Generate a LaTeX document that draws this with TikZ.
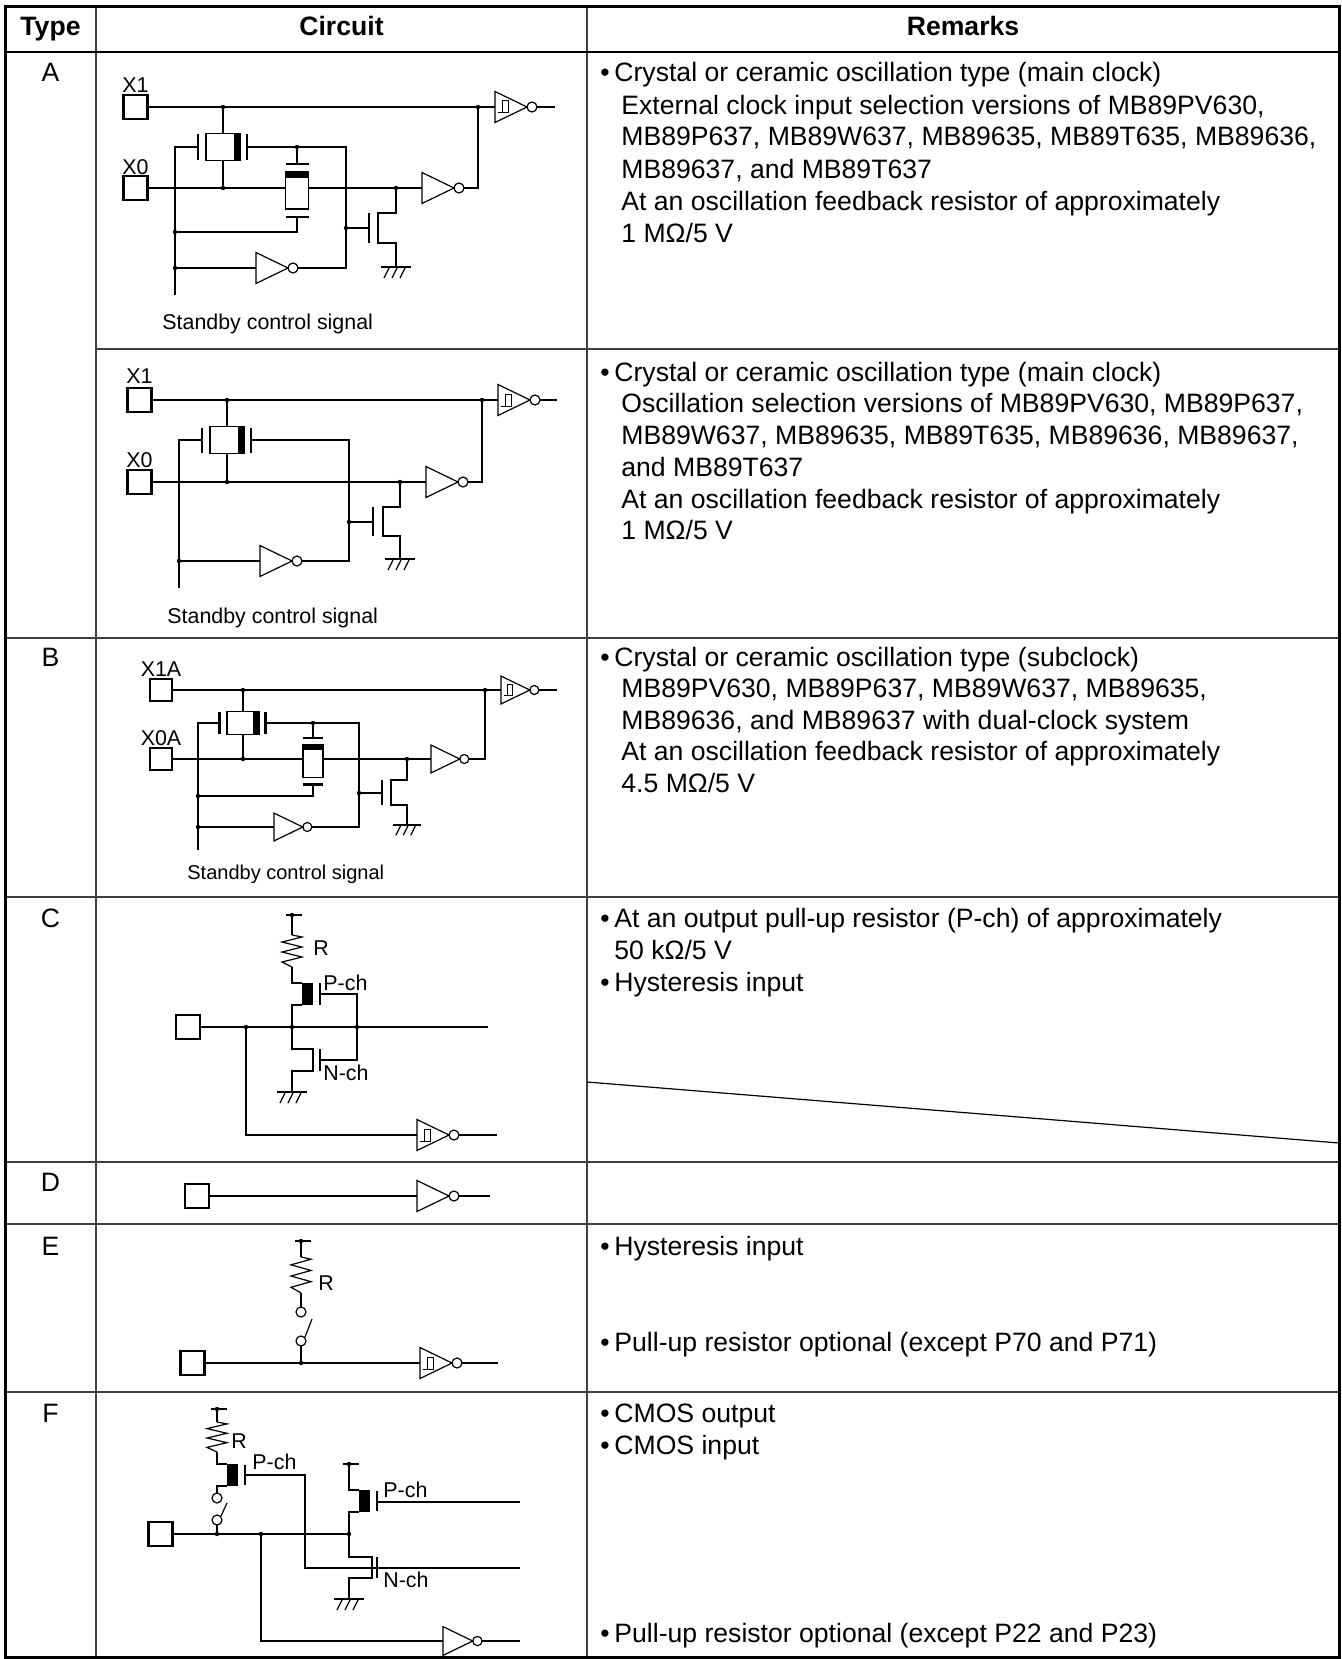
\documentclass[tikz,border=0pt]{standalone}
\usepackage{fontspec}
\setmainfont{Liberation Sans}
\newcommand{\rmkfont}{\fontsize{13.3}{16}\selectfont}
\newcommand{\lblfont}{\fontsize{10.7}{12}\selectfont}
\tikzset{
	tabline/.style={line width=0.7pt, black!75},
	tabframe/.style={line width=1.5pt},
	wire/.style={line width=0.6pt},
	plate/.style={line width=1.3pt},
	rmk/.style={anchor=base west, inner sep=0, font=\rmkfont},
	typ/.style={anchor=base, inner sep=0, font=\rmkfont},
	head/.style={anchor=base, inner sep=0, font=\rmkfont\bfseries},
	lbl/.style={anchor=base west, inner sep=0, font=\lblfont},
	pinlbl/.style={anchor=base, inner sep=0, font=\lblfont},
	pad/.style={draw, line width=1.4pt, minimum size=12pt, inner sep=0},
	pics/inv/.style={code={
		\draw[wire] (0,-15.5) -- (32,0) -- (0,15.5) -- cycle;
		\draw[wire] (37,0) circle (5);}},
	pics/schmitt/.style={code={
		\draw[wire] (0,-15.5) -- (32,0) -- (0,15.5) -- cycle;
		\draw[wire] (37,0) circle (5);
		\draw[line width=0.5pt] (3,6) -- (13,6) -- (13,-6) -- (7,-6) -- (7,6);}},
	pics/gnd/.style={code={
		\draw[line width=1.2pt] (-15,0) -- (15,0);
		\foreach \h in {-7,1,9} \draw[wire] (\h,1) -- (\h-5,11);}},
	pics/xtal/.style={code={
		\draw[wire] (-17,-13.5) rectangle (17,13.5);
		\fill (11,-13.5) rectangle (17,13.5);
		\draw[plate] (-25,-12.5) -- (-25,12.5);
		\draw[plate] (24,-12.5) -- (24,12.5);}},
	pics/fbres/.style={code={
		\draw[wire] (-11.5,-16) rectangle (11.5,21);
		\fill (-11.5,-16) rectangle (11.5,-10);
		\draw[plate] (-11.5,-24) -- (11.5,-24);
		\draw[plate] (-11.5,29) -- (11.5,29);}},
	pics/zres/.style={code={
		\draw[wire] (0,0) -- (10,2) -- (-10,7) -- (10,12) -- (-10,17) -- (10,22) -- (-10,27) -- (0,32);}},
	pics/vdd/.style={code={
		\draw[wire] (-6,0) -- (10,0);
		\fill (0,0) circle (2.2);}},
}
\begin{document}
\begin{tikzpicture}[x=0.5pt, y=-0.5pt]
	\useasboundingbox (0,0) rectangle (1341,1659);
	% table
	\draw[tabline] (96,7) -- (96,1657);
	\draw[tabline] (587,7) -- (587,1657);
	\draw[tabline] (96,349) -- (1339,349);
	\foreach \r in {638,897,1162,1224,1392}
		\draw[tabline] (5,\r) -- (1339,\r);
	\draw[line width=1.2pt] (5,52) -- (1339,52);
	\draw[tabframe] (5,7) rectangle (1339,1657);
	\draw[wire] (587,1082) -- (1339,1143);
	\node[head] (hType) at (50.5,36) {Type};
	\node[head] (hCircuit) at (341.5,36) {Circuit};
	\node[head] (hRemarks) at (963,36) {Remarks};
	\node[typ] (tA) at (50.5,82) {A};
	\node[typ] (tB) at (50.5,666) {B};
	\node[typ] (tC) at (50.5,927) {C};
	\node[typ] (tD) at (50.5,1191) {D};
	\node[typ] (tE) at (50.5,1255) {E};
	\node[typ] (tF) at (50.5,1422) {F};

	% remarks
	\node[rmk] (bAa) at (600,82) {\textbullet};
	\node[rmk] (rAa1) at (614,82) {Crystal or ceramic oscillation type (main clock)};
	\node[rmk] (rAa2) at (621,114) {External clock input selection versions of MB89PV630,};
	\node[rmk] (rAa3) at (621,146) {MB89P637, MB89W637, MB89635, MB89T635, MB89636,};
	\node[rmk] (rAa4) at (621,178) {MB89637, and MB89T637};
	\node[rmk] (rAa5) at (621,210) {At an oscillation feedback resistor of approximately};
	\node[rmk] (rAa6) at (621,242) {1 MΩ/5 V};
	\node[rmk] (bAb) at (600,381) {\textbullet};
	\node[rmk] (rAb1) at (614,381) {Crystal or ceramic oscillation type (main clock)};
	\node[rmk] (rAb2) at (621,412) {Oscillation selection versions of MB89PV630, MB89P637,};
	\node[rmk] (rAb3) at (621,444) {MB89W637, MB89635, MB89T635, MB89636, MB89637,};
	\node[rmk] (rAb4) at (621,476) {and MB89T637};
	\node[rmk] (rAb5) at (621,508) {At an oscillation feedback resistor of approximately};
	\node[rmk] (rAb6) at (621,539) {1 MΩ/5 V};
	\node[rmk] (bB) at (600,666) {\textbullet};
	\node[rmk] (rB1) at (614,666) {Crystal or ceramic oscillation type (subclock)};
	\node[rmk] (rB2) at (621,697) {MB89PV630, MB89P637, MB89W637, MB89635,};
	\node[rmk] (rB3) at (621,729) {MB89636, and MB89637 with dual-clock system};
	\node[rmk] (rB4) at (621,760) {At an oscillation feedback resistor of approximately};
	\node[rmk] (rB5) at (621,792) {4.5 MΩ/5 V};
	\node[rmk] (bCa) at (600,927) {\textbullet};
	\node[rmk] (rC1) at (614,927) {At an output pull-up resistor (P-ch) of approximately};
	\node[rmk] (rC2) at (614,959) {50 kΩ/5 V};
	\node[rmk] (bCb) at (600,991) {\textbullet};
	\node[rmk] (rC3) at (614,991) {Hysteresis input};
	\node[rmk] (bEa) at (600,1255) {\textbullet};
	\node[rmk] (rE1) at (614,1255) {Hysteresis input};
	\node[rmk] (bEb) at (600,1351) {\textbullet};
	\node[rmk] (rE2) at (614,1351) {Pull-up resistor optional (except P70 and P71)};
	\node[rmk] (bFa) at (600,1422) {\textbullet};
	\node[rmk] (rF1) at (614,1422) {CMOS output};
	\node[rmk] (bFb) at (600,1454) {\textbullet};
	\node[rmk] (rF2) at (614,1454) {CMOS input};
	\node[rmk] (bFc) at (600,1642) {\textbullet};
	\node[rmk] (rF3) at (614,1642) {Pull-up resistor optional (except P22 and P23)};

	% type A, external clock version
	\node[pad] (xoneA) at (135.5,107) {};
	\node[pinlbl] (xoneAl) at (135.5,93) {X1};
	\node[pad] (xzeroA) at (135.5,188) {};
	\node[pinlbl] (xzeroAl) at (135.5,174) {X0};
	\draw[wire] (xoneA.east) -- (495,107);
	\pic at (495,107) {schmitt};
	\draw[wire] (537,107) -- (555,107);
	\draw[wire] (223,107) -- (223,133.5);
	\pic at (223,147) {xtal};
	\draw[wire] (223,160.5) -- (223,188);
	\draw[wire] (xzeroA.east) -- (285.5,188);
	\pic at (297,188) {fbres};
	\draw[wire] (308.5,188) -- (422,188);
	\pic at (422,188) {inv};
	\draw[wire] (464,188) -- (478,188) -- (478,107);
	\draw[wire] (198,147) -- (175,147) -- (175,295);
	\draw[wire] (247,147) -- (346,147) -- (346,268) -- (298,268);
	\draw[wire] (297,164) -- (297,147);
	\draw[wire] (297,217) -- (297,232) -- (175,232);
	\draw[wire] (175,268) -- (256,268);
	\pic at (256,268) {inv};
	\draw[wire] (346,228) -- (369,228);
	\draw[plate] (369,213) -- (369,243);
	\draw[wire] (396,188) -- (396,213) -- (378,213) -- (378,243) -- (396,243) -- (396,267);
	\pic at (396,267) {gnd};
	\foreach \p in {(223,107),(478,107),(223,188),(396,188),(297,147),(175,232),(175,268),(346,228)}
		\fill \p circle (2.2);
	\node[lbl] (stbyA) at (162,329) {Standby control signal};

	% type A, oscillation version
	\node[pad] (xoneB) at (139.5,400) {};
	\node[pinlbl] (xoneBl) at (139.5,383) {X1};
	\node[pad] (xzeroB) at (139.5,482) {};
	\node[pinlbl] (xzeroBl) at (139.5,467) {X0};
	\draw[wire] (xoneB.east) -- (498,400);
	\pic at (498,400) {schmitt};
	\draw[wire] (540,400) -- (557,400);
	\draw[wire] (227,400) -- (227,426.5);
	\pic at (227,440) {xtal};
	\draw[wire] (227,453.5) -- (227,482);
	\draw[wire] (xzeroB.east) -- (426,482);
	\pic at (426,482) {inv};
	\draw[wire] (468,482) -- (482,482) -- (482,400);
	\draw[wire] (202,440) -- (179,440) -- (179,588);
	\draw[wire] (251,440) -- (349,440) -- (349,561) -- (302,561);
	\draw[wire] (179,561) -- (260,561);
	\pic at (260,561) {inv};
	\draw[wire] (349,522) -- (373,522);
	\draw[plate] (373,507) -- (373,536);
	\draw[wire] (400,482) -- (400,507) -- (383,507) -- (383,536) -- (400,536) -- (400,559);
	\pic at (400,559) {gnd};
	\foreach \p in {(227,400),(482,400),(227,482),(400,482),(179,561),(349,522)}
		\fill \p circle (2.2);
	\node[lbl] (stbyB) at (167,623) {Standby control signal};

	% type B, subclock
	\node[pad, minimum size=11pt] (xoneC) at (161,690) {};
	\node[pinlbl] (xoneCl) at (161,676) {X1A};
	\node[pad, minimum size=11pt] (xzeroC) at (161,759) {};
	\node[pinlbl] (xzeroCl) at (161,745) {X0A};
	\draw[wire] (xoneC.east) -- (501,690);
	\pic[scale=0.9] at (501,690) {schmitt};
	\draw[wire] (539,690) -- (557,690);
	\draw[wire] (243,690) -- (243,711.5);
	\pic[xscale=0.94, yscale=0.85] at (243,723) {xtal};
	\draw[wire] (243,734.5) -- (243,759);
	\draw[wire] (xzeroC.east) -- (303,759);
	\pic[scale=0.87] at (313,759) {fbres};
	\draw[wire] (323,759) -- (431,759);
	\pic[scale=0.9] at (431,759) {inv};
	\draw[wire] (469,759) -- (485,759) -- (485,690);
	\draw[wire] (219.5,723) -- (198,723) -- (198,850);
	\draw[wire] (265.5,723) -- (359,723) -- (359,827) -- (312,827);
	\draw[wire] (313,738) -- (313,723);
	\draw[wire] (313,784) -- (313,796) -- (198,796);
	\draw[wire] (198,827) -- (274,827);
	\pic[scale=0.9] at (274,827) {inv};
	\draw[wire] (359,793) -- (382,793);
	\draw[plate] (382,780) -- (382,805);
	\draw[wire] (407,759) -- (407,780) -- (391,780) -- (391,805) -- (407,805) -- (407,825);
	\pic[scale=0.93] at (407,825) {gnd};
	\foreach \p in {(243,690),(485,690),(243,759),(407,759),(313,723),(198,796),(198,827),(359,793)}
		\fill \p circle (2.2);
	\node[lbl, font=\fontsize{10}{12}\selectfont] (stbyC) at (187,879) {Standby control signal};

	% type C
	\node[pad] (padC) at (188,1027) {};
	\draw[wire] (padC.east) -- (488,1027);
	\draw[wire] (246,1027) -- (246,1135) -- (417,1135);
	\pic at (417,1135) {schmitt};
	\draw[wire] (459,1135) -- (497,1135);
	\pic at (292,915) {vdd};
	\draw[wire] (292,915) -- (292,935);
	\pic at (292,935) {zres};
	\draw[wire] (292,967) -- (292,983) -- (302,983);
	\fill (302,983) rectangle (313,1005);
	\draw[wire] (302,1005) -- (292,1005) -- (292,1027);
	\draw[plate] (320,983) -- (320,1005);
	\draw[wire] (320,994) -- (357,994) -- (357,1060) -- (320,1060);
	\draw[plate] (320,1049) -- (320,1071);
	\draw[wire] (292,1027) -- (292,1049) -- (313,1049) -- (313,1071) -- (292,1071) -- (292,1092);
	\pic at (292,1092) {gnd};
	\foreach \p in {(246,1027),(292,1027),(357,1027)}
		\fill \p circle (2.2);
	\node[lbl] (rC) at (313,955) {R};
	\node[lbl] (pchC) at (323,990) {P-ch};
	\node[lbl] (nchC) at (323,1080) {N-ch};

	% type D
	\node[pad] (padD) at (197,1196) {};
	\draw[wire] (padD.east) -- (417,1196);
	\pic at (417,1196) {inv};
	\draw[wire] (459,1196) -- (490,1196);

	% type E
	\node[pad] (padE) at (192.5,1363) {};
	\draw[wire] (padE.east) -- (420,1363);
	\pic at (420,1363) {schmitt};
	\draw[wire] (462,1363) -- (498,1363);
	\pic at (301,1241) {vdd};
	\draw[wire] (301,1241) -- (301,1257);
	\pic[yscale=1.12] at (301,1257) {zres};
	\draw[wire] (301,1293) -- (301,1307);
	\draw[wire] (301,1312) circle (5);
	\draw[wire] (301,1341) circle (5);
	\draw[wire] (305,1337) -- (312,1319);
	\draw[wire] (301,1346) -- (301,1363);
	\fill (301,1363) circle (2.2);
	\node[lbl] (rE) at (318,1290) {R};

	% type F
	\node[pad] (padF) at (160.5,1534) {};
	\draw[wire] (padF.east) -- (349,1534);
	\draw[wire] (261,1534) -- (261,1641) -- (443,1641);
	\pic[scale=0.93] at (443,1641) {inv};
	\draw[wire] (482,1641) -- (520,1641);
	\pic at (217,1409) {vdd};
	\draw[wire] (217,1409) -- (217,1422);
	\pic[yscale=0.94] at (217,1422) {zres};
	\draw[wire] (217,1452) -- (217,1464) -- (227,1464);
	\fill (227,1464) rectangle (238,1486);
	\draw[wire] (227,1486) -- (217,1486) -- (217,1493);
	\draw[wire] (217,1498) circle (5);
	\draw[wire] (217,1520) circle (5);
	\draw[wire] (221,1516) -- (227,1503);
	\draw[wire] (217,1525) -- (217,1534);
	\draw[plate] (245,1465) -- (245,1485);
	\draw[wire] (245,1475) -- (305,1475) -- (305,1568) -- (520,1568);
	\pic at (349,1464) {vdd};
	\draw[wire] (349,1464) -- (349,1490) -- (359,1490);
	\fill (359,1490) rectangle (370,1512);
	\draw[wire] (359,1512) -- (349,1512) -- (349,1534);
	\draw[plate] (377,1491) -- (377,1511);
	\draw[wire] (377,1502) -- (520,1502);
	\draw[wire] (349,1534) -- (349,1557) -- (372,1557) -- (372,1578) -- (349,1578) -- (349,1599);
	\draw[plate] (377,1557) -- (377,1578);
	\pic at (349,1599) {gnd};
	\foreach \p in {(217,1534),(261,1534),(349,1534)}
		\fill \p circle (2.2);
	\node[lbl] (rF) at (231,1448) {R};
	\node[lbl] (pchFa) at (252,1469) {P-ch};
	\node[lbl] (pchFb) at (383,1497) {P-ch};
	\node[lbl] (nchF) at (383,1587) {N-ch};
\end{tikzpicture}
\end{document}
